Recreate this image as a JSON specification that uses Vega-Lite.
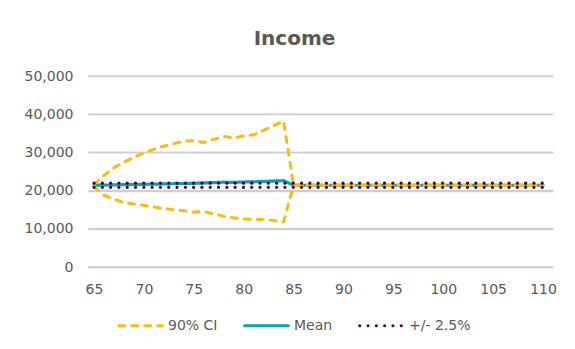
{
  "$schema": "https://vega.github.io/schema/vega-lite/v6.json",
  "width": 465,
  "height": 191,
  "autosize": {"type": "none"},
  "padding": {"left": 88, "top": 76, "right": 22, "bottom": 82},
  "background": "white",
  "title": {
    "text": "Income",
    "fontSize": 20,
    "fontWeight": "bold",
    "font": "DejaVu Sans",
    "color": "#595959",
    "anchor": "middle",
    "dx": -26,
    "baseline": "alphabetic",
    "offset": 4
  },
  "datasets": {
    "gridlines": [
      {"value": 0}, {"value": 10000}, {"value": 20000},
      {"value": 30000}, {"value": 40000}, {"value": 50000}
    ],
    "income": [
      {"age": 65, "mean": 21400, "ci_hi": 21600, "ci_lo": 21000, "band_hi": 21935, "band_lo": 20865},
      {"age": 66, "mean": 21450, "ci_hi": 24000, "ci_lo": 18800, "band_hi": 21935, "band_lo": 20865},
      {"age": 67, "mean": 21500, "ci_hi": 26000, "ci_lo": 17700, "band_hi": 21935, "band_lo": 20865},
      {"age": 68, "mean": 21550, "ci_hi": 27500, "ci_lo": 16900, "band_hi": 21935, "band_lo": 20865},
      {"age": 69, "mean": 21600, "ci_hi": 28700, "ci_lo": 16500, "band_hi": 21935, "band_lo": 20865},
      {"age": 70, "mean": 21650, "ci_hi": 29900, "ci_lo": 16100, "band_hi": 21935, "band_lo": 20865},
      {"age": 71, "mean": 21700, "ci_hi": 30800, "ci_lo": 15700, "band_hi": 21935, "band_lo": 20865},
      {"age": 72, "mean": 21750, "ci_hi": 31600, "ci_lo": 15300, "band_hi": 21935, "band_lo": 20865},
      {"age": 73, "mean": 21800, "ci_hi": 32300, "ci_lo": 15000, "band_hi": 21935, "band_lo": 20865},
      {"age": 74, "mean": 21850, "ci_hi": 32900, "ci_lo": 14700, "band_hi": 21935, "band_lo": 20865},
      {"age": 75, "mean": 21900, "ci_hi": 33100, "ci_lo": 14400, "band_hi": 21935, "band_lo": 20865},
      {"age": 76, "mean": 22000, "ci_hi": 32600, "ci_lo": 14500, "band_hi": 21935, "band_lo": 20865},
      {"age": 77, "mean": 22100, "ci_hi": 33400, "ci_lo": 13900, "band_hi": 21935, "band_lo": 20865},
      {"age": 78, "mean": 22200, "ci_hi": 34200, "ci_lo": 13300, "band_hi": 21935, "band_lo": 20865},
      {"age": 79, "mean": 22150, "ci_hi": 33800, "ci_lo": 12900, "band_hi": 21935, "band_lo": 20865},
      {"age": 80, "mean": 22250, "ci_hi": 34300, "ci_lo": 12600, "band_hi": 21935, "band_lo": 20865},
      {"age": 81, "mean": 22300, "ci_hi": 34600, "ci_lo": 12400, "band_hi": 21935, "band_lo": 20865},
      {"age": 82, "mean": 22400, "ci_hi": 35800, "ci_lo": 12500, "band_hi": 21935, "band_lo": 20865},
      {"age": 83, "mean": 22500, "ci_hi": 37000, "ci_lo": 12200, "band_hi": 21935, "band_lo": 20865},
      {"age": 84, "mean": 22600, "ci_hi": 38200, "ci_lo": 11800, "band_hi": 21935, "band_lo": 20865},
      {"age": 85, "mean": 21400, "ci_hi": 21400, "ci_lo": 21400, "band_hi": 21935, "band_lo": 20865},
      {"age": 86, "mean": 21400, "ci_hi": 21400, "ci_lo": 21400, "band_hi": 21935, "band_lo": 20865},
      {"age": 87, "mean": 21400, "ci_hi": 21400, "ci_lo": 21400, "band_hi": 21935, "band_lo": 20865},
      {"age": 88, "mean": 21400, "ci_hi": 21400, "ci_lo": 21400, "band_hi": 21935, "band_lo": 20865},
      {"age": 89, "mean": 21400, "ci_hi": 21400, "ci_lo": 21400, "band_hi": 21935, "band_lo": 20865},
      {"age": 90, "mean": 21400, "ci_hi": 21400, "ci_lo": 21400, "band_hi": 21935, "band_lo": 20865},
      {"age": 91, "mean": 21400, "ci_hi": 21400, "ci_lo": 21400, "band_hi": 21935, "band_lo": 20865},
      {"age": 92, "mean": 21400, "ci_hi": 21400, "ci_lo": 21400, "band_hi": 21935, "band_lo": 20865},
      {"age": 93, "mean": 21400, "ci_hi": 21400, "ci_lo": 21400, "band_hi": 21935, "band_lo": 20865},
      {"age": 94, "mean": 21400, "ci_hi": 21400, "ci_lo": 21400, "band_hi": 21935, "band_lo": 20865},
      {"age": 95, "mean": 21400, "ci_hi": 21400, "ci_lo": 21400, "band_hi": 21935, "band_lo": 20865},
      {"age": 96, "mean": 21400, "ci_hi": 21400, "ci_lo": 21400, "band_hi": 21935, "band_lo": 20865},
      {"age": 97, "mean": 21400, "ci_hi": 21400, "ci_lo": 21400, "band_hi": 21935, "band_lo": 20865},
      {"age": 98, "mean": 21400, "ci_hi": 21400, "ci_lo": 21400, "band_hi": 21935, "band_lo": 20865},
      {"age": 99, "mean": 21400, "ci_hi": 21400, "ci_lo": 21400, "band_hi": 21935, "band_lo": 20865},
      {"age": 100, "mean": 21400, "ci_hi": 21400, "ci_lo": 21400, "band_hi": 21935, "band_lo": 20865},
      {"age": 101, "mean": 21400, "ci_hi": 21400, "ci_lo": 21400, "band_hi": 21935, "band_lo": 20865},
      {"age": 102, "mean": 21400, "ci_hi": 21400, "ci_lo": 21400, "band_hi": 21935, "band_lo": 20865},
      {"age": 103, "mean": 21400, "ci_hi": 21400, "ci_lo": 21400, "band_hi": 21935, "band_lo": 20865},
      {"age": 104, "mean": 21400, "ci_hi": 21400, "ci_lo": 21400, "band_hi": 21935, "band_lo": 20865},
      {"age": 105, "mean": 21400, "ci_hi": 21400, "ci_lo": 21400, "band_hi": 21935, "band_lo": 20865},
      {"age": 106, "mean": 21400, "ci_hi": 21400, "ci_lo": 21400, "band_hi": 21935, "band_lo": 20865},
      {"age": 107, "mean": 21400, "ci_hi": 21400, "ci_lo": 21400, "band_hi": 21935, "band_lo": 20865},
      {"age": 108, "mean": 21400, "ci_hi": 21400, "ci_lo": 21400, "band_hi": 21935, "band_lo": 20865},
      {"age": 109, "mean": 21400, "ci_hi": 21400, "ci_lo": 21400, "band_hi": 21935, "band_lo": 20865},
      {"age": 110, "mean": 21400, "ci_hi": 21400, "ci_lo": 21400, "band_hi": 21935, "band_lo": 20865}
    ]
  },
  "data": {"name": "income"},
  "encoding": {
    "y": {
      "field": "value",
      "type": "quantitative",
      "scale": {"domain": [0, 50000], "nice": false},
      "axis": {
        "title": null,
        "values": [0, 10000, 20000, 30000, 40000, 50000],
        "format": ",.0f",
        "grid": true,
        "gridColor": "#cfcfcf",
        "gridWidth": 1.5,
        "ticks": false,
        "domain": false,
        "labelPadding": 15
      }
    }
  },
  "layer": [
    {
      "data": {"name": "gridlines"},
      "mark": {"type": "rule", "color": "#cfcfcf", "strokeWidth": 1.5},
      "encoding": {
        "x": {"datum": 64.4, "type": "quantitative"},
        "x2": {"datum": 111.0}
      }
    },
    {
      "transform": [{"fold": ["mean"], "as": ["bound", "value"]}],
      "mark": {"type": "line", "strokeWidth": 3.2, "strokeCap": "round", "strokeJoin": "round"},
      "encoding": {
        "x": {
          "field": "age",
          "type": "quantitative",
          "scale": {"domain": [64.4, 111.0], "nice": false, "zero": false},
          "axis": {
            "title": null,
            "values": [65, 70, 75, 80, 85, 90, 95, 100, 105, 110],
            "format": "d",
            "grid": false,
            "ticks": false,
            "domain": true,
            "domainColor": "#cfcfcf",
            "domainWidth": 1.5,
            "labelPadding": 15
          }
        },
        "color": {"datum": "Mean"},
        "strokeDash": {"datum": "Mean"}
      }
    },
    {
      "transform": [{"fold": ["ci_hi", "ci_lo"], "as": ["bound", "value"]}],
      "mark": {"type": "line", "strokeWidth": 3, "strokeCap": "round", "strokeJoin": "round"},
      "encoding": {
        "x": {"field": "age", "type": "quantitative"},
        "detail": {"field": "bound"},
        "color": {"datum": "90% CI"},
        "strokeDash": {"datum": "90% CI"}
      }
    },
    {
      "transform": [{"fold": ["band_hi", "band_lo"], "as": ["bound", "value"]}],
      "mark": {"type": "line", "strokeWidth": 3.2, "strokeCap": "round", "strokeJoin": "round"},
      "encoding": {
        "x": {"field": "age", "type": "quantitative"},
        "detail": {"field": "bound"},
        "color": {
          "datum": "+/- 2.5%",
          "scale": {
            "domain": ["90% CI", "Mean", "+/- 2.5%"],
            "range": ["#FFBA12", "#0AA0AE", "#3C0C40"]
          },
          "legend": {
            "title": null,
            "encode": {"symbols": {"update": {"strokeCap": {"value": "round"}}}}
          }
        },
        "strokeDash": {
          "datum": "+/- 2.5%",
          "scale": {
            "domain": ["90% CI", "Mean", "+/- 2.5%"],
            "range": [[6, 7], [1, 0], [0.1, 8.2]]
          },
          "legend": {"title": null}
        }
      }
    }
  ],
  "config": {
    "view": {"stroke": null},
    "axis": {
      "labelFontSize": 14,
      "labelFont": "DejaVu Sans",
      "labelColor": "#595959"
    },
    "legend": {
      "orient": "none",
      "legendX": 29,
      "legendY": 226,
      "direction": "horizontal",
      "symbolType": "stroke",
      "symbolSize": 1900,
      "symbolStrokeWidth": 3,
      "labelFontSize": 14,
      "labelFont": "DejaVu Sans",
      "labelColor": "#595959",
      "labelOffset": 4,
      "columnPadding": 20
    }
  }
}
